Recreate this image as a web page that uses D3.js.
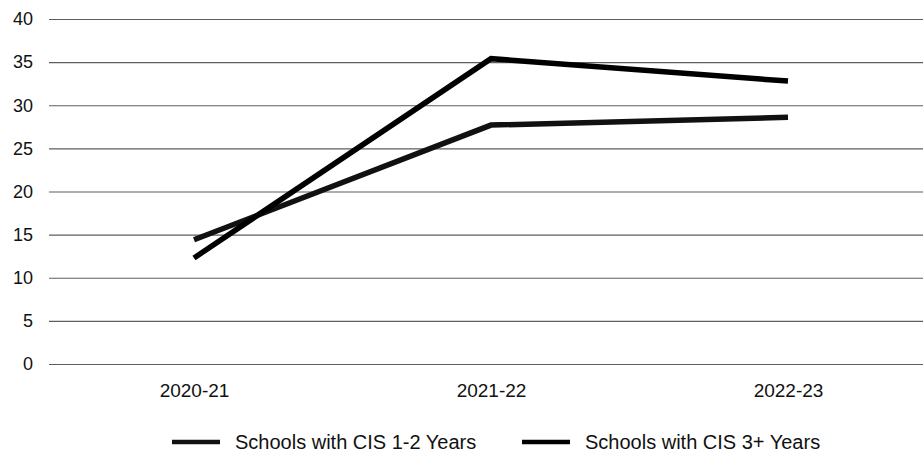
<!DOCTYPE html>
<html>
<head>
<meta charset="utf-8">
<script src="https://cdn.jsdelivr.net/npm/d3@7"></script>
<style>
  html, body { margin: 0; padding: 0; background: #fff; }
  svg { display: block; font-family: "Liberation Sans", Arial, sans-serif; }
</style>
</head>
<body>
<svg id="chart" width="923" height="452"></svg>
<script>
// School years on the horizontal axis
const years = ["2020-21", "2021-22", "2022-23"];
// Series values per school year
const cisOneTwoYears = [14.4, 27.7, 28.6];
const cisThreePlusYears = [12.3, 35.4, 32.8];
const seriesNames = ["Schools with CIS 1-2 Years", "Schools with CIS 3+ Years"];
// Vertical axis ticks
const yTicks = [0, 5, 10, 15, 20, 25, 30, 35, 40];

const series = [
  { name: seriesNames[0], values: cisOneTwoYears, color: "#111" },
  { name: seriesNames[1], values: cisThreePlusYears, color: "#000" }
];

const svg = d3.select("#chart");
const width = 923;

const x = d3.scalePoint().domain(years).range([45.5, 936.5]).padding(0.5);
const y = d3.scaleLinear().domain([0, 40]).range([364, 19]);

// Horizontal gridlines with left-side labels
const yAxis = d3.axisLeft(y)
  .tickValues(yTicks)
  .tickSize(-(width - 49))
  .tickPadding(16)
  .tickFormat(d3.format("d"));

const gy = svg.append("g")
  .attr("transform", "translate(49,0)")
  .call(yAxis);
gy.select(".domain").remove();
gy.selectAll(".tick line").attr("stroke", "#5e5e5e").attr("stroke-width", 1.2);
gy.selectAll(".tick text")
  .attr("fill", "#111")
  .attr("font-size", 18);

// Category labels along the bottom
const xAxis = d3.axisBottom(x).tickSize(0).tickPadding(0);
const gx = svg.append("g")
  .attr("transform", "translate(0,364)")
  .call(xAxis);
gx.select(".domain").remove();
gx.selectAll(".tick text")
  .attr("fill", "#111")
  .attr("font-size", 19)
  .attr("dy", null)
  .attr("y", 33);

// Series lines
const line = d3.line()
  .x((d, i) => x(years[i]))
  .y(d => y(d));

svg.append("g")
  .selectAll("path")
  .data(series)
  .join("path")
  .attr("d", d => line(d.values))
  .attr("fill", "none")
  .attr("stroke", d => d.color)
  .attr("stroke-width", 5.5)
  .attr("stroke-linejoin", "miter")
  .attr("stroke-linecap", "butt");

// Legend
const legendX = [172, 522];
const legend = svg.append("g")
  .selectAll("g")
  .data(series)
  .join("g")
  .attr("transform", (d, i) => `translate(${legendX[i]},442)`);

legend.append("line")
  .attr("x1", 0).attr("x2", 48)
  .attr("y1", 0).attr("y2", 0)
  .attr("stroke", d => d.color)
  .attr("stroke-width", 4.5);

legend.append("text")
  .attr("x", 63)
  .attr("y", 7)
  .attr("font-size", 20)
  .attr("fill", "#111")
  .text(d => d.name);
</script>
</body>
</html>
